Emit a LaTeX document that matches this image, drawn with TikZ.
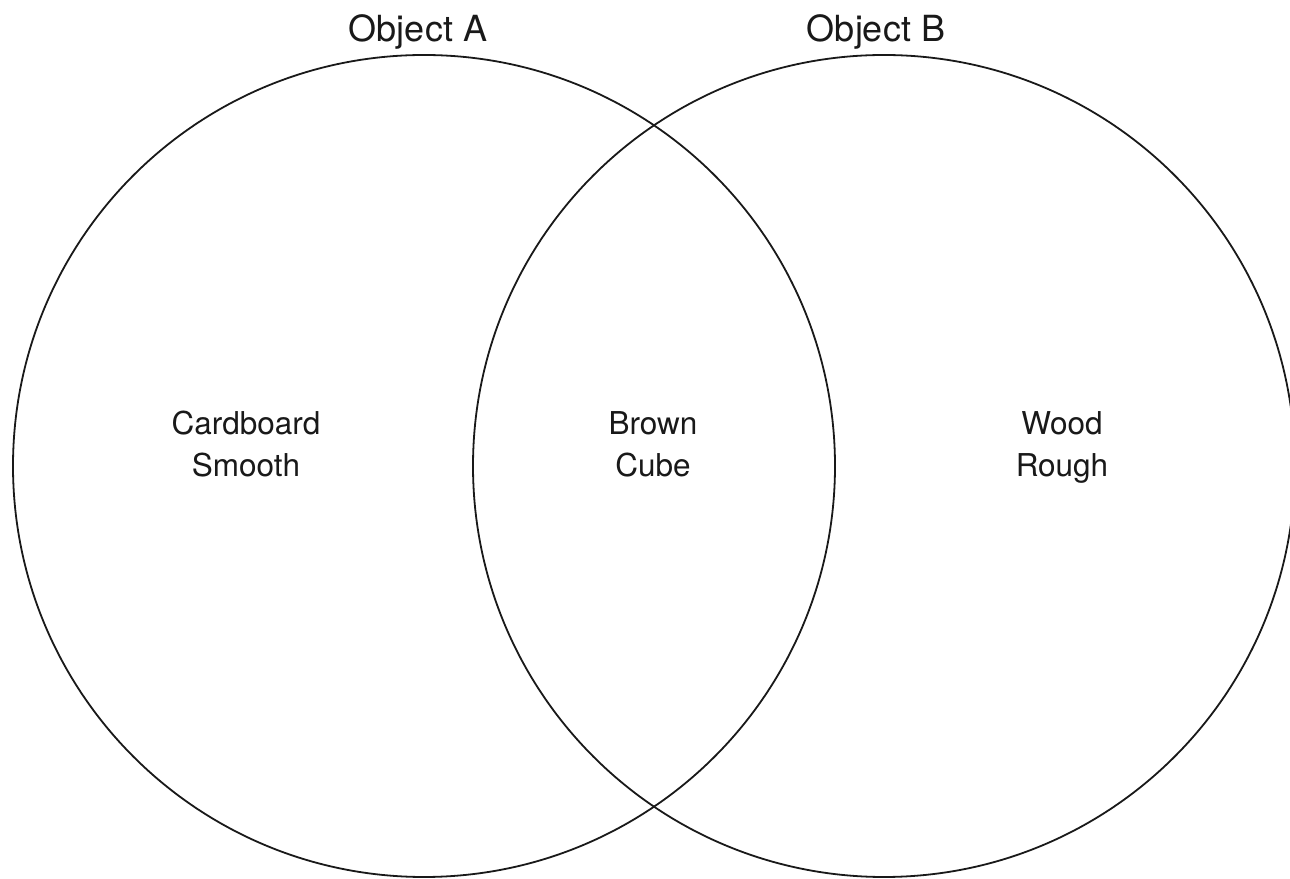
\documentclass[tikz,border=0pt]{standalone}
\usepackage{fontspec}
\setmainfont{TeX Gyre Heros}
\begin{document}
\begin{tikzpicture}[x=1pt,y=1pt,
  ring/.style={draw=black!90, line width=1.8pt},
  title/.style={anchor=base, font=\fontsize{36}{40}\selectfont, text=black!90, inner sep=0pt},
  label/.style={anchor=base, font=\fontsize{31.5}{38}\selectfont, text=black!90, inner sep=0pt}]
\useasboundingbox (0,0) rectangle (1290,878);
\coordinate (cA) at (424,412);
\coordinate (cB) at (884,412);
\draw[ring] (cA) circle[radius=411];
\draw[ring] (cB) circle[radius=411];
\node[title] (tA) at (418,836) {Object A};
\node[title] (tB) at (876,836) {Object B};
\node[label] (a1) at (246,443) {Cardboard};
\node[label] (a2) at (246,401) {Smooth};
\node[label] (m1) at (653,443) {Brown};
\node[label] (m2) at (653,401) {Cube};
\node[label] (b1) at (1062,443) {Wood};
\node[label] (b2) at (1062,401) {Rough};
\end{tikzpicture}
\end{document}
